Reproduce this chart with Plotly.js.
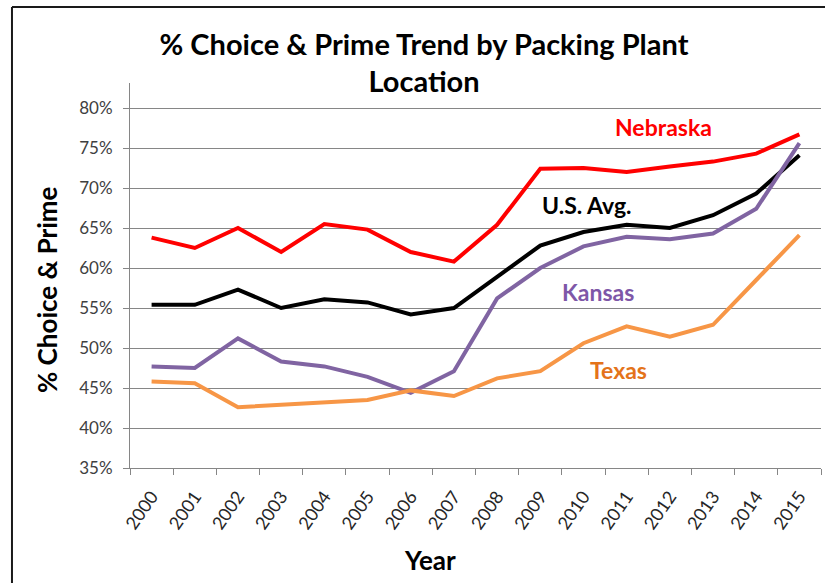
<!DOCTYPE html>
<html>
<head>
<meta charset="utf-8">
<script src="https://cdn.plot.ly/plotly-3.0.1.min.js"></script>
<style>
html,body{margin:0;padding:0;background:#fff;}
#chart{width:825px;height:583px;}
</style>
</head>
<body>
<div id="chart"></div>
<script>
const years = ['2000','2001','2002','2003','2004','2005','2006','2007','2008','2009','2010','2011','2012','2013','2014','2015'];
const nebraska = [63.8, 62.5, 65.0, 62.0, 65.5, 64.8, 62.0, 60.8, 65.4, 72.4, 72.5, 72.0, 72.7, 73.3, 74.3, 76.7];
const usAvg    = [55.4, 55.4, 57.3, 55.0, 56.1, 55.7, 54.2, 55.0, 58.9, 62.8, 64.5, 65.4, 65.0, 66.6, 69.3, 74.1];
const kansas   = [47.7, 47.5, 51.2, 48.3, 47.7, 46.4, 44.4, 47.1, 56.2, 60.0, 62.7, 63.9, 63.6, 64.3, 67.4, 75.6];
const texas    = [45.8, 45.6, 42.6, 42.9, 43.1, 43.5, 44.7, 44.0, 46.2, 47.1, 50.6, 52.7, 51.4, 52.9, 58.5, 64.1];
const seriesNames = ['Nebraska', 'U.S. Avg.', 'Kansas', 'Texas'];
const yTickVals = [35, 40, 45, 50, 55, 60, 65, 70, 75, 80];
const yTickText = ['35%', '40%', '45%', '50%', '55%', '60%', '65%', '70%', '75%', '80%'];

const lineColors = ['#FF0000', '#000000', '#8064A2', '#F79646'];
const labelColors = ['#FF0000', '#000000', '#7E57A8', '#E4731A'];
const allData = [nebraska, usAvg, kansas, texas];

const traces = allData.map((d, i) => ({
  x: years, y: d, type: 'scatter', mode: 'lines', name: seriesNames[i],
  line: {color: lineColors[i], width: 4, shape: 'linear'},
  hoverinfo: 'skip'
}));

const labelPos = [[11.85, 77.6], [10.08, 67.9], [10.34, 57.0], [10.8, 47.25]];
const annotations = seriesNames.map((n, i) => ({
  x: labelPos[i][0], y: labelPos[i][1], xref: 'x', yref: 'y', text: '<b>' + n + '</b>',
  showarrow: false, font: {family: 'Lato, sans-serif', size: 23, color: labelColors[i]}
}));
annotations.push({
  x: -0.1201, y: 0.4623, xref: 'paper', yref: 'paper', textangle: -90,
  text: '<b>% Choice & Prime</b>', showarrow: false, xanchor: 'center', yanchor: 'middle',
  font: {family: 'Lato, sans-serif', size: 26, color: '#000'}
});
annotations.push({
  x: 0.434, y: -0.239, xref: 'paper', yref: 'paper',
  text: '<b>Year</b>', showarrow: false, xanchor: 'center', yanchor: 'middle',
  font: {family: 'Lato, sans-serif', size: 26, color: '#000'}
});

const layout = {
  width: 825, height: 583,
  margin: {l: 130, r: 4, t: 83, b: 115},
  paper_bgcolor: '#ffffff', plot_bgcolor: '#ffffff',
  showlegend: false,
  title: {
    text: '<b>% Choice & Prime Trend by Packing Plant<br>Location</b>',
    x: 0.4255, xref: 'paper', xanchor: 'center',
    y: 0.9065, yref: 'container', yanchor: 'middle',
    font: {family: 'Lato, sans-serif', size: 29, color: '#000000'}
  },
  xaxis: {
    type: 'category', range: [-0.5, 15.5],
    tickson: 'boundaries', ticks: 'outside', ticklen: 6, tickcolor: '#868686', tickwidth: 1,
    ticklabelstandoff: 10,
    showline: true, linecolor: '#868686', linewidth: 1,
    showgrid: false, zeroline: false,
    tickangle: -55,
    tickfont: {family: 'Lato, sans-serif', size: 18, color: '#262626'}
  },
  yaxis: {
    range: [35, 83.125],
    tickvals: yTickVals, ticktext: yTickText,
    ticks: 'outside', ticklen: 6, tickcolor: '#868686', tickwidth: 1,
    ticklabelstandoff: 7,
    showline: true, linecolor: '#868686', linewidth: 1,
    showgrid: true, gridcolor: '#868686', gridwidth: 1, zeroline: false,
    tickfont: {family: 'Lato, sans-serif', size: 17, color: '#404040'}
  },
  annotations: annotations,
  shapes: [
    {type: 'line', xref: 'paper', yref: 'paper', x0: -0.1708, x1: 1.006, y0: 1.1974, y1: 1.1974, line: {color: '#1a1a1a', width: 2}},
    {type: 'line', xref: 'paper', yref: 'paper', x0: -0.1708, x1: -0.1708, y0: 1.1974, y1: -0.30, line: {color: '#1a1a1a', width: 2}}
  ]
};

Plotly.newPlot('chart', traces, layout, {displayModeBar: false, staticPlot: true});
</script>
</body>
</html>
